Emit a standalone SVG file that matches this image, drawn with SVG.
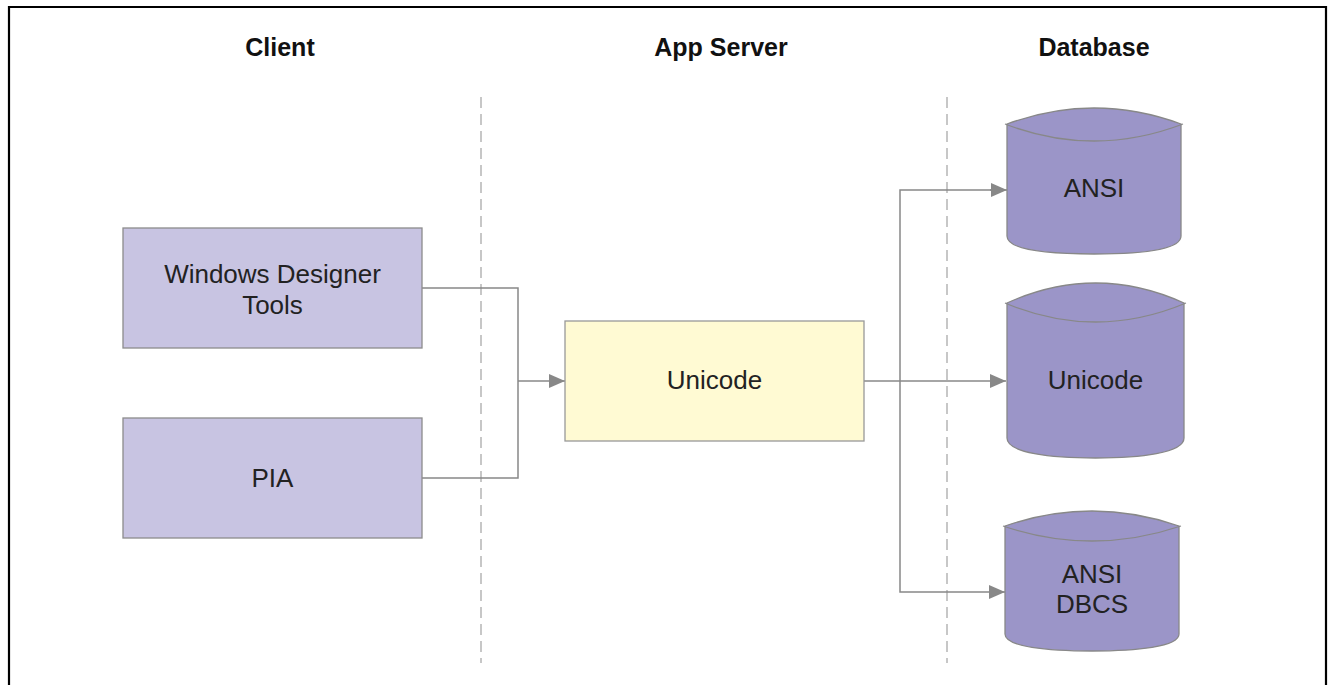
<svg xmlns="http://www.w3.org/2000/svg" width="1328" height="685" viewBox="0 0 1328 685">
  <defs>
    <style>
      .hdr { font-family: "Liberation Sans", Arial, sans-serif; font-weight: bold; font-size: 25px; fill: #111; text-anchor: middle; }
      .lbl { font-family: "Liberation Sans", Arial, sans-serif; font-size: 26px; fill: #222; text-anchor: middle; }
      .client { fill: #c8c4e2; stroke: #8c8c8c; stroke-width: 1.3; }
      .server { fill: #fffad3; stroke: #999; stroke-width: 1.3; }
      .db { fill: #9b95c8; stroke: #888; stroke-width: 1.3; }
      .rim { fill: none; stroke: #888; stroke-width: 1.3; }
      .conn { fill: none; stroke: #888; stroke-width: 1.5; }
      .lane { stroke: #aaa; stroke-width: 1.3; stroke-dasharray: 11 6; }
    </style>
    <marker id="arrow" viewBox="0 0 16 14" refX="16" refY="7" markerWidth="16" markerHeight="14" markerUnits="userSpaceOnUse" orient="auto">
      <path d="M0,0 L16,7 L0,14 Z" fill="#888"/>
    </marker>
  </defs>

  <rect x="0" y="0" width="1328" height="685" fill="#fff"/>
  <!-- outer frame -->
  <path d="M9,690 L9,7 L1326,7 L1326,690" fill="none" stroke="#000" stroke-width="2.2"/>

  <!-- tier headings -->
  <g id="headers">
    <text class="hdr" x="280" y="56">Client</text>
    <text class="hdr" x="721" y="56">App Server</text>
    <text class="hdr" x="1094" y="56">Database</text>
  </g>

  <!-- tier separators -->
  <g id="lanes">
    <line class="lane" x1="481" y1="97" x2="481" y2="663"/>
    <line class="lane" x1="947" y1="97" x2="947" y2="663"/>
  </g>

  <g id="connectors">
    <polyline class="conn" points="422,288 518,288 518,478 422,478"/>
    <line class="conn" x1="518" y1="381" x2="565" y2="381" marker-end="url(#arrow)"/>
    <line class="conn" x1="864" y1="381" x2="1006" y2="381" marker-end="url(#arrow)"/>
    <polyline class="conn" points="1000,190 900,190 900,592 1000,592"/>
    <line class="conn" x1="990" y1="190" x2="1007" y2="190" marker-end="url(#arrow)"/>
    <line class="conn" x1="990" y1="592" x2="1005" y2="592" marker-end="url(#arrow)"/>
  </g>

  <g id="windows-designer-tools">
    <rect class="client" x="123" y="228" width="299" height="120"/>
    <text class="lbl" x="272.5" y="283">Windows Designer</text>
    <text class="lbl" x="272.5" y="314">Tools</text>
  </g>

  <g id="pia">
    <rect class="client" x="123" y="418" width="299" height="120"/>
    <text class="lbl" x="272.5" y="487">PIA</text>
  </g>

  <g id="app-unicode">
    <rect class="server" x="565" y="321" width="299" height="120"/>
    <text class="lbl" x="714.5" y="389">Unicode</text>
  </g>

  <g id="db-ansi">
    <path class="db" d="M1007,124 Q1094,92 1181,124 L1181,236 C1181,250 1140,254 1094,254 C1048,254 1007,250 1007,236 Z"/>
    <path class="rim" d="M1005,124 Q1094,158 1183,124"/>
    <text class="lbl" x="1094" y="197">ANSI</text>
  </g>

  <g id="db-unicode">
    <path class="db" d="M1007,303 Q1095.5,263 1184,303 L1184,438 C1184,453 1140,458 1095.5,458 C1051,458 1007,453 1007,438 Z"/>
    <path class="rim" d="M1005,303 Q1095.5,341 1186,303"/>
    <text class="lbl" x="1095.5" y="389">Unicode</text>
  </g>

  <g id="db-ansi-dbcs">
    <path class="db" d="M1005,526 Q1092,496 1179,526 L1179,634 C1179,647 1136,651 1092,651 C1048,651 1005,647 1005,634 Z"/>
    <path class="rim" d="M1003,526 Q1092,556 1181,526"/>
    <text class="lbl" x="1092" y="583">ANSI</text>
    <text class="lbl" x="1092" y="613">DBCS</text>
  </g>
</svg>
